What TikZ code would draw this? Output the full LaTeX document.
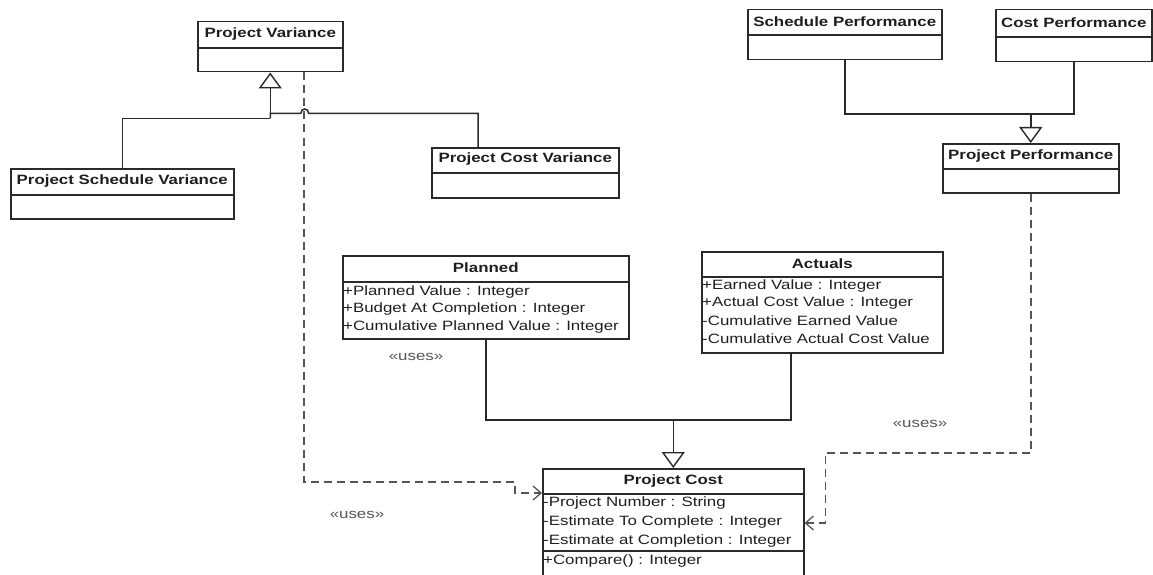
\documentclass[tikz,border=0pt]{standalone}
\usepackage{fontspec}
\setmainfont{Liberation Sans}[FakeStretch=1.25]
\usetikzlibrary{arrows.meta,calc}
\definecolor{linec}{HTML}{2A2A2A}
\definecolor{txtc}{HTML}{1E1E1E}
\definecolor{usec}{HTML}{555555}
\begin{document}
\begin{tikzpicture}[x=1pt,y=-1pt,
 cls/.style={draw=linec,line width=1.5pt,anchor=north west,inner sep=0pt},
 ln/.style={draw=linec,line width=1.5pt},
 hdr/.style={font=\fontsize{13.5}{16}\selectfont\bfseries,text=txtc,inner sep=0pt},
 att/.style={font=\fontsize{13.5}{16}\selectfont,text=txtc,inner sep=0pt,anchor=west},
 gen/.style={ln,-{Triangle[open,width=23pt,length=16pt,line width=1.4pt]}},
 dep/.style={draw=usec,line width=1.5pt,dash pattern=on 8pt off 5pt,-{Straight Barb[length=8pt,width=14pt,line width=1.3pt]}},
 uses/.style={font=\fontsize{13.5}{16}\selectfont,text=usec,inner sep=0pt}]
\useasboundingbox (0,0) rectangle (1153,575);
% ---------- boxes ----------
\node[cls,minimum width=145pt,minimum height=50pt] (pv) at (197,21) {};
\node[hdr] (pvh) at ($(pv.north)+(0,13)$) {Project Variance};
\draw[ln] ($(pv.north west)+(0,27)$) -- ($(pv.north east)+(0,27)$);

\node[cls,minimum width=223pt,minimum height=50pt] (psv) at (10,168) {};
\node[hdr] (psvh) at ($(psv.north)+(0,13)$) {Project Schedule Variance};
\draw[ln] ($(psv.north west)+(0,27)$) -- ($(psv.north east)+(0,27)$);

\node[cls,minimum width=187pt,minimum height=50pt] (pcv) at (431,147) {};
\node[hdr] (pcvh) at ($(pcv.north)+(0,12.5)$) {Project Cost Variance};
\draw[ln] ($(pcv.north west)+(0,26)$) -- ($(pcv.north east)+(0,26)$);

\node[cls,minimum width=194pt,minimum height=50pt] (sp) at (747,9) {};
\node[hdr] (sph) at ($(sp.north)+(0,13)$) {Schedule Performance};
\draw[ln] ($(sp.north west)+(0,26)$) -- ($(sp.north east)+(0,26)$);

\node[cls,minimum width=156pt,minimum height=52pt] (cp) at (995,9) {};
\node[hdr] (cph) at ($(cp.north)+(0,14)$) {Cost Performance};
\draw[ln] ($(cp.north west)+(0,28)$) -- ($(cp.north east)+(0,28)$);

\node[cls,minimum width=176pt,minimum height=49pt] (pp) at (942,143) {};
\node[hdr] (pph) at ($(pp.north)+(0,13)$) {Project Performance};
\draw[ln] ($(pp.north west)+(0,26)$) -- ($(pp.north east)+(0,26)$);

\node[cls,minimum width=286pt,minimum height=83pt] (pl) at (342,255) {};
\node[hdr] (plh) at ($(pl.north)+(0,13)$) {Planned};
\draw[ln] ($(pl.north west)+(0,27)$) -- ($(pl.north east)+(0,27)$);
\node[att] (pl1) at ($(pl.north west)+(1,37)$) {+Planned Value : Integer};
\node[att] (pl2) at ($(pl.north west)+(1,54.5)$) {+Budget At Completion : Integer};
\node[att] (pl3) at ($(pl.north west)+(1,72)$) {+Cumulative Planned Value : Integer};

\node[cls,minimum width=241pt,minimum height=101pt] (ac) at (701,251) {};
\node[hdr] (ach) at ($(ac.north)+(0,12.5)$) {Actuals};
\draw[ln] ($(ac.north west)+(0,26)$) -- ($(ac.north east)+(0,26)$);
\node[att] (ac1) at ($(ac.north west)+(1,35)$) {+Earned Value : Integer};
\node[att] (ac2) at ($(ac.north west)+(1,52.5)$) {+Actual Cost Value : Integer};
\node[att] (ac3) at ($(ac.north west)+(1,70)$) {-Cumulative Earned Value};
\node[att] (ac4) at ($(ac.north west)+(1,87.5)$) {-Cumulative Actual Cost Value};

\node[cls,minimum width=261pt,minimum height=107pt] (pc) at (542,468) {};
\node[hdr] (pch) at ($(pc.north)+(0,13)$) {Project Cost};
\draw[ln] ($(pc.north west)+(0,26)$) -- ($(pc.north east)+(0,26)$);
\node[att] (pc1) at ($(pc.north west)+(1,35)$) {-Project Number : String};
\node[att] (pc2) at ($(pc.north west)+(1,54)$) {-Estimate To Complete : Integer};
\node[att] (pc3) at ($(pc.north west)+(1,73)$) {-Estimate at Completion : Integer};
\draw[ln] ($(pc.north west)+(0,83)$) -- ($(pc.north east)+(0,83)$);
\node[att] (pc4) at ($(pc.north west)+(1,93)$) {+Compare() : Integer};

% ---------- generalizations ----------
\coordinate (j1) at ($(pv.south)+(0,46)$);
\draw[ln] (psv.north) |- (j1);
\draw[gen] (j1) -- (pv.south);
\coordinate (j1b) at ($(pv.south)+(0,41)$);
\draw[ln] ($(pcv.north west)+(47,0)$) |- ($(j1b)+(38.5,0)$)
  .. controls ($(j1b)+(38.5,-6)$) and ($(j1b)+(30.5,-6)$) .. ($(j1b)+(30.5,0)$) -- (j1b) -- (j1);

\coordinate (j2) at ($(pp.north)+(0,-29)$);
\draw[ln] (sp.south) |- (j2) -| (cp.south);
\draw[gen] (j2) -- (pp.north);

\coordinate (j3) at ($(pc.north)+(0,-48)$);
\draw[ln] (pl.south) |- (j3);
\draw[ln] ($(ac.south west)+(90,0)$) |- (j3);
\draw[gen] (j3) -- (pc.north);

% ---------- dependencies ----------
\draw[dep] ($(pv.south west)+(107,0)$) |- ($(pc.north west)+(-27,14)$) -- ($(pc.north west)+(-27,25)$) -- ($(pc.north west)+(0,25)$);
\draw[dep] (pp.south) |- ($(pc.north east)+(21,-15)$) |- ($(pc.north east)+(0,55)$);

% ---------- labels ----------
\node[uses] (u1) at (416,357) {«uses»};
\node[uses] (u2) at (357,515) {«uses»};
\node[uses] (u3) at (920,424) {«uses»};
\end{tikzpicture}
\end{document}
